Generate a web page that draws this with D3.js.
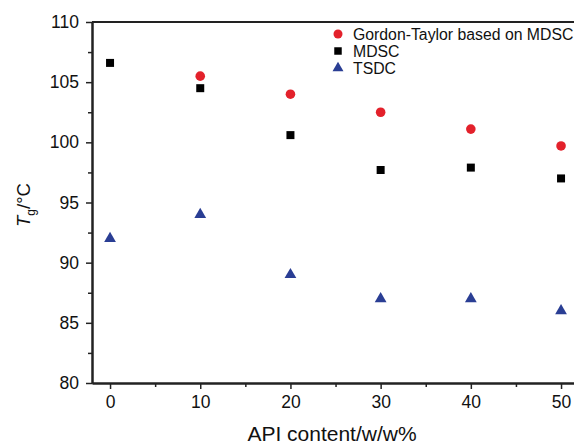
<!DOCTYPE html>
<html>
<head>
<meta charset="utf-8">
<script src="https://cdn.jsdelivr.net/npm/d3@7"></script>
<style>
  body { margin: 0; background: #fff; overflow: hidden; }
  svg text { font-family: "Liberation Sans", Arial, sans-serif; fill: #111; }
</style>
</head>
<body>
<div id="chart"></div>
<script>
// API content (w/w%)
var content = [0, 10, 20, 30, 40, 50];
// Tg values per method
var gordonTaylor = [null, 105.5, 104.0, 102.5, 101.1, 99.7];
var mdsc = [106.6, 104.5, 100.6, 97.7, 97.9, 97.0];
var tsdc = [92.0, 94.0, 89.0, 87.0, 87.0, 86.0];
var xTicks = [0, 10, 20, 30, 40, 50];
var yTicks = [80, 85, 90, 95, 100, 105, 110];
var legendNames = ["Gordon-Taylor based on MDSC", "MDSC", "TSDC"];

var width = 574, height = 446;
var mLeft = 92, mTop = 22, mBottom = 383;

var svg = d3.select("#chart").append("svg")
    .attr("width", width)
    .attr("height", height);

// scales
var x = d3.scaleLinear().domain([-2, 52]).range([mLeft, mLeft + 54 * 9.02]);
var y = d3.scaleLinear().domain([80, 110]).range([mBottom, mTop]);

// axes, major + minor ticks outward
var yAxis = d3.axisLeft(y).tickValues(yTicks).tickSize(6).tickPadding(7).tickSizeOuter(0);
var yMinor = d3.axisLeft(y).tickValues(d3.range(82.5, 110, 5)).tickSize(4).tickFormat("").tickSizeOuter(0);
var xAxis = d3.axisBottom(x).tickValues(xTicks).tickSize(6).tickPadding(7).tickSizeOuter(0);
var xMinor = d3.axisBottom(x).tickValues(d3.range(5, 50, 10)).tickSize(4).tickFormat("").tickSizeOuter(0);

svg.append("g").attr("transform", "translate(" + mLeft + ",0)").call(yAxis);
svg.append("g").attr("transform", "translate(" + mLeft + ",0)").call(yMinor);
svg.append("g").attr("transform", "translate(0," + mBottom + ")").call(xAxis);
svg.append("g").attr("transform", "translate(0," + mBottom + ")").call(xMinor);

svg.selectAll(".domain").attr("stroke", "#222").attr("stroke-width", 2);
svg.selectAll(".tick line").attr("stroke", "#222").attr("stroke-width", 1.5);
svg.selectAll(".tick text").style("font-size", "17.5px").attr("fill", "#111");

// top frame line
svg.append("line")
    .attr("x1", mLeft).attr("x2", width)
    .attr("y1", mTop).attr("y2", mTop)
    .attr("stroke", "#222").attr("stroke-width", 2);

// axis titles
svg.append("text")
    .attr("x", 332)
    .attr("y", 441)
    .attr("text-anchor", "middle")
    .style("font-size", "21px")
    .text("API content/w/w%");

var yl = svg.append("text")
    .attr("transform", "translate(30,205)rotate(-90)")
    .attr("text-anchor", "middle")
    .style("font-size", "18.5px");
yl.append("tspan").style("font-style", "italic").text("T");
yl.append("tspan").attr("dy", 5).style("font-size", "12px").text("g");
yl.append("tspan").attr("dy", -5).text("/°C");

// markers
var red = "#e3212b", blue = "#2a3e94";

svg.selectAll(".gt").data(content.map(function(c, i) { return [c, gordonTaylor[i]]; })
        .filter(function(d) { return d[1] != null; }))
    .enter().append("circle")
    .attr("cx", function(d) { return x(d[0]); })
    .attr("cy", function(d) { return y(d[1]); })
    .attr("r", 4.8)
    .attr("fill", red);

svg.selectAll(".md").data(content.map(function(c, i) { return [c, mdsc[i]]; }))
    .enter().append("path")
    .attr("transform", function(d) { return "translate(" + x(d[0]) + "," + y(d[1]) + ")"; })
    .attr("d", d3.symbol().type(d3.symbolSquare).size(64))
    .attr("fill", "#000");

svg.selectAll(".ts").data(content.map(function(c, i) { return [c, tsdc[i]]; }))
    .enter().append("path")
    .attr("transform", function(d) { return "translate(" + x(d[0]) + "," + y(d[1]) + ")"; })
    .attr("d", d3.symbol().type(d3.symbolTriangle).size(60))
    .attr("fill", blue);

// legend
var legX = 338, legY = [34, 51, 68];
var lg = svg.append("g");
lg.append("circle").attr("cx", legX).attr("cy", legY[0]).attr("r", 4.5).attr("fill", red);
lg.append("path").attr("transform", "translate(" + legX + "," + legY[1] + ")")
    .attr("d", d3.symbol().type(d3.symbolSquare).size(56)).attr("fill", "#000");
lg.append("path").attr("transform", "translate(" + legX + "," + legY[2] + ")")
    .attr("d", d3.symbol().type(d3.symbolTriangle).size(52)).attr("fill", blue);
lg.selectAll("text").data(legendNames).enter().append("text")
    .attr("x", 353)
    .attr("y", function(d, i) { return legY[i] + 5.5; })
    .style("font-size", "15.8px")
    .text(function(d) { return d; });
</script>
</body>
</html>
